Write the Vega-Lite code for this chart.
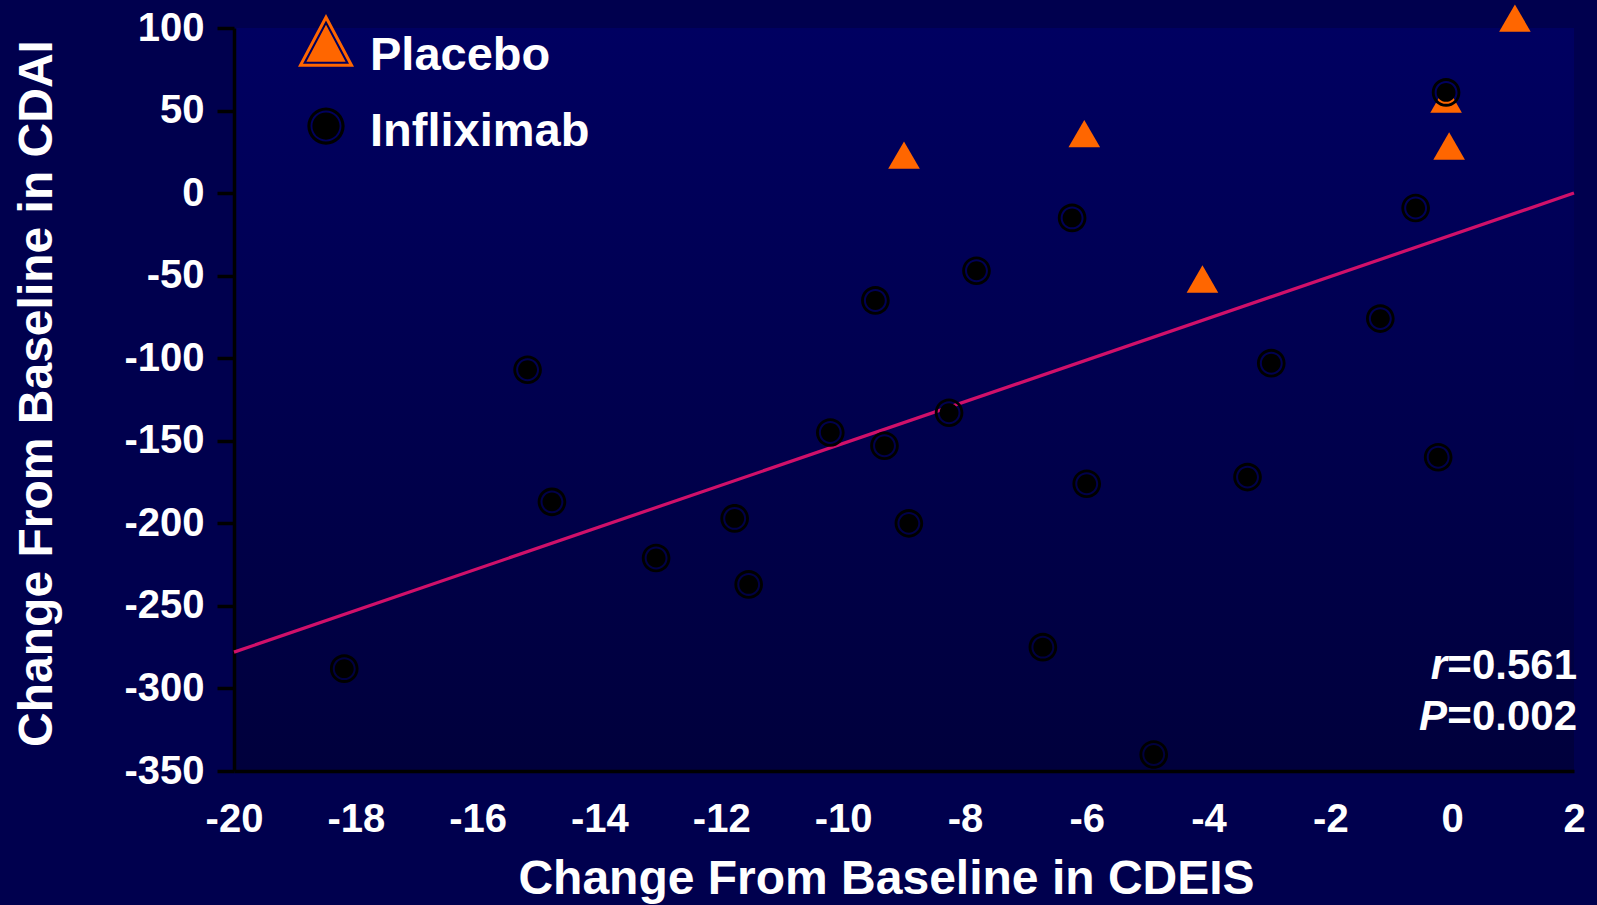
{
  "$schema": "https://vega.github.io/schema/vega-lite/v6.json",
  "width": 1340,
  "height": 743,
  "autosize": {"type": "none"},
  "padding": {"left": 234, "top": 28, "right": 23, "bottom": 134},
  "background": "#00004E",
  "config": {
    "view": {"stroke": null, "fill": {"gradient": "linear", "x1": 0, "y1": 0, "x2": 0, "y2": 1, "stops": [{"offset": 0, "color": "#000061"}, {"offset": 1, "color": "#00003C"}]}},
    "font": "Liberation Sans",
    "axis": {"domainColor": "#000000", "domainWidth": 3.5, "tickColor": "#000000", "tickWidth": 3.5, "grid": false, "labelColor": "#FFFFFF", "labelFont": "Liberation Sans", "labelFontWeight": "bold", "labelFontSize": 40, "titleColor": "#FFFFFF", "titleFont": "Liberation Sans", "titleFontWeight": "bold", "titleFontSize": 48, "labelFlush": false, "labelOverlap": false,
      "labelExpr": "datum.value < 0 ? '-' + format(-datum.value, 'd') : format(datum.value, 'd')"},
    "legend": {"title": null, "orient": "none", "legendX": 64, "legendY": 0, "padding": 0, "symbolStrokeWidth": 0, "symbolOpacity": 1, "labelColor": "#FFFFFF", "labelFont": "Liberation Sans", "labelFontWeight": "bold", "labelFontSize": 47, "labelOffset": 16, "rowPadding": 28, "labelLimit": 400}
  },
  "datasets": {
    "fit": [{"cdeis": -20, "cdai": -278}, {"cdeis": 2, "cdai": 0}],
    "patients": [
      {"group": "Placebo", "cdeis": -9.0, "cdai": 23},
      {"group": "Placebo", "cdeis": -6.04, "cdai": 36},
      {"group": "Placebo", "cdeis": -4.1, "cdai": -52},
      {"group": "Placebo", "cdeis": -0.05, "cdai": 28.5},
      {"group": "Placebo", "cdeis": -0.1, "cdai": 57},
      {"group": "Placebo", "cdeis": 1.03, "cdai": 106},
      {"group": "Infliximab", "cdeis": -18.19, "cdai": -288},
      {"group": "Infliximab", "cdeis": -15.18, "cdai": -107},
      {"group": "Infliximab", "cdeis": -14.78, "cdai": -187},
      {"group": "Infliximab", "cdeis": -13.07, "cdai": -221},
      {"group": "Infliximab", "cdeis": -11.78, "cdai": -197},
      {"group": "Infliximab", "cdeis": -11.55, "cdai": -237},
      {"group": "Infliximab", "cdeis": -10.21, "cdai": -145},
      {"group": "Infliximab", "cdeis": -9.47, "cdai": -65},
      {"group": "Infliximab", "cdeis": -9.32, "cdai": -153},
      {"group": "Infliximab", "cdeis": -8.92, "cdai": -200},
      {"group": "Infliximab", "cdeis": -8.26, "cdai": -133},
      {"group": "Infliximab", "cdeis": -7.81, "cdai": -47},
      {"group": "Infliximab", "cdeis": -6.72, "cdai": -275},
      {"group": "Infliximab", "cdeis": -6.24, "cdai": -15},
      {"group": "Infliximab", "cdeis": -6.0, "cdai": -176},
      {"group": "Infliximab", "cdeis": -4.9, "cdai": -340},
      {"group": "Infliximab", "cdeis": -3.36, "cdai": -172},
      {"group": "Infliximab", "cdeis": -2.97, "cdai": -103},
      {"group": "Infliximab", "cdeis": -1.18, "cdai": -76},
      {"group": "Infliximab", "cdeis": -0.6, "cdai": -9},
      {"group": "Infliximab", "cdeis": -0.23, "cdai": -160},
      {"group": "Infliximab", "cdeis": -0.1, "cdai": 61}
    ]
  },
  "resolve": {"scale": {"shape": "independent", "color": "independent", "size": "independent"}, "legend": {"shape": "independent", "color": "independent", "size": "independent"}},
  "layer": [
    {
      "data": {"name": "fit"},
      "mark": {"type": "line", "color": "#D0106A", "strokeWidth": 3.2},
      "encoding": {
        "x": {"field": "cdeis", "type": "quantitative", "scale": {"domain": [-20, 2], "nice": false, "zero": false},
          "axis": {"values": [-20, -18, -16, -14, -12, -10, -8, -6, -4, -2, 0, 2], "ticks": false, "tickSize": 0, "labelPadding": 28, "title": "Change From Baseline in CDEIS", "titlePadding": 16, "titleX": 652}},
        "y": {"field": "cdai", "type": "quantitative", "scale": {"domain": [-350, 100], "nice": false, "zero": false},
          "axis": {"values": [100, 50, 0, -50, -100, -150, -200, -250, -300, -350], "tickSize": 17, "labelPadding": 13, "title": "Change From Baseline in CDAI", "titlePadding": 62, "titleY": 365}}
      }
    },
    {
      "data": {"name": "patients"},
      "mark": {"type": "point", "filled": true, "opacity": 1, "strokeWidth": 0},
      "encoding": {
        "x": {"field": "cdeis", "type": "quantitative"},
        "y": {"field": "cdai", "type": "quantitative"},
        "shape": {"field": "group", "type": "nominal",
          "scale": {"domain": ["Placebo", "Infliximab"], "range": ["triangle-up", "M-1,0A1,1 0 1,1 1,0A1,1 0 1,1 -1,0ZM-0.8,0A0.8,0.8 0 1,0 0.8,0A0.8,0.8 0 1,0 -0.8,0ZM-0.66,0A0.66,0.66 0 1,1 0.66,0A0.66,0.66 0 1,1 -0.66,0Z"]},
          "legend": null},
        "color": {"field": "group", "type": "nominal",
          "scale": {"domain": ["Placebo", "Infliximab"], "range": ["#FF6600", "#000000"]}, "legend": null},
        "size": {"field": "group", "type": "nominal", "scale": {"domain": ["Placebo", "Infliximab"], "range": [1000, 820]}, "legend": null}
      }
    },
    {
      "data": {"name": "patients"},
      "mark": {"type": "point", "filled": true, "opacity": 0, "strokeWidth": 0},
      "encoding": {
        "x": {"field": "cdeis", "type": "quantitative"},
        "y": {"field": "cdai", "type": "quantitative"},
        "shape": {"field": "group", "type": "nominal",
          "scale": {"domain": ["Placebo", "Infliximab"], "range": ["M0,-1.497L1,0.383L-1,0.383ZM0,-1.269L-0.822,0.276L0.822,0.276ZM0,-1.113L0.7,0.203L-0.7,0.203Z", "M-1,-0.29A1,1 0 1,1 1,-0.29A1,1 0 1,1 -1,-0.29ZM-0.83,-0.29A0.83,0.83 0 1,0 0.83,-0.29A0.83,0.83 0 1,0 -0.83,-0.29ZM-0.73,-0.29A0.73,0.73 0 1,1 0.73,-0.29A0.73,0.73 0 1,1 -0.73,-0.29Z"]}},
        "color": {"field": "group", "type": "nominal",
          "scale": {"domain": ["Placebo", "Infliximab"], "range": ["#FF6600", "#000000"]}},
        "size": {"field": "group", "type": "nominal", "scale": {"domain": ["Placebo", "Infliximab"], "range": [3136, 1391]}}
      }
    },
    {
      "data": {"values": [{"txt": "=0.561"}]},
      "mark": {"type": "text", "align": "right", "baseline": "alphabetic", "font": "Liberation Sans", "fontWeight": "bold", "fontSize": 42, "color": "#FFFFFF", "dx": 3},
      "encoding": {"x": {"datum": 2}, "y": {"datum": -294}, "text": {"field": "txt"}}
    },
    {
      "data": {"values": [{"txt": "r"}]},
      "mark": {"type": "text", "align": "right", "baseline": "alphabetic", "font": "Liberation Sans", "fontWeight": "bold", "fontStyle": "italic", "fontSize": 42, "color": "#FFFFFF", "dx": -127},
      "encoding": {"x": {"datum": 2}, "y": {"datum": -294}, "text": {"field": "txt"}}
    },
    {
      "data": {"values": [{"txt": "=0.002"}]},
      "mark": {"type": "text", "align": "right", "baseline": "alphabetic", "font": "Liberation Sans", "fontWeight": "bold", "fontSize": 42, "color": "#FFFFFF", "dx": 3},
      "encoding": {"x": {"datum": 2}, "y": {"datum": -325}, "text": {"field": "txt"}}
    },
    {
      "data": {"values": [{"txt": "P"}]},
      "mark": {"type": "text", "align": "right", "baseline": "alphabetic", "font": "Liberation Sans", "fontWeight": "bold", "fontStyle": "italic", "fontSize": 42, "color": "#FFFFFF", "dx": -127},
      "encoding": {"x": {"datum": 2}, "y": {"datum": -325}, "text": {"field": "txt"}}
    }
  ]
}
